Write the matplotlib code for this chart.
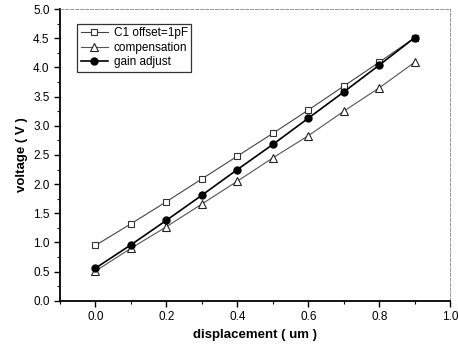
import matplotlib
matplotlib.use('Agg')
import matplotlib.pyplot as plt
from matplotlib.ticker import MultipleLocator

plt.rcParams['font.family'] = ['Liberation Sans', 'DejaVu Sans']

displacement = [0.0, 0.1, 0.2, 0.3, 0.4, 0.5, 0.6, 0.7, 0.8, 0.9]
c1_offset = [0.95, 1.32, 1.70, 2.09, 2.48, 2.87, 3.27, 3.68, 4.09, 4.51]
compensation = [0.51, 0.90, 1.27, 1.66, 2.05, 2.45, 2.83, 3.25, 3.65, 4.09]
gain_adjust = [0.56, 0.96, 1.38, 1.81, 2.25, 2.68, 3.13, 3.58, 4.04, 4.51]

fig = plt.figure(figsize=(4.58, 3.49), dpi=100)
ax = fig.add_axes([0.131, 0.138, 0.852, 0.836])

ax.plot(displacement, c1_offset, color='#444444', lw=0.8, marker='s', ms=4.5,
        mfc='white', mec='#333333', mew=0.8, label='C1 offset=1pF')
ax.plot(displacement, compensation, color='#555555', lw=0.8, marker='^', ms=5.5,
        mfc='white', mec='#222222', mew=0.8, label='compensation')
ax.plot(displacement, gain_adjust, color='black', lw=1.2, marker='o', ms=5,
        mfc='black', mec='black', label='gain adjust')

ax.set_xlim(-0.1, 1.0)
ax.set_ylim(0.0, 5.0)
ax.xaxis.set_major_locator(MultipleLocator(0.2))
ax.xaxis.set_minor_locator(MultipleLocator(0.1))
ax.yaxis.set_major_locator(MultipleLocator(0.5))
ax.yaxis.set_minor_locator(MultipleLocator(0.25))
ax.tick_params(which='major', direction='out', length=4, width=1, labelsize=8.5)
ax.tick_params(which='minor', direction='out', length=2, width=0.8)

for s in ['left', 'bottom']:
    ax.spines[s].set_linewidth(1.3)
for s in ['top', 'right']:
    ax.spines[s].set_linewidth(0.6)
    ax.spines[s].set_color('#888888')
    ax.spines[s].set_linestyle((0, (4, 2)))

ax.set_xlabel('displacement ( um )', fontsize=9.5, fontweight='bold')
ax.set_ylabel('voltage ( V )', fontsize=9.5, fontweight='bold')

leg = ax.legend(loc='upper left', bbox_to_anchor=(0.044, 0.949), borderaxespad=0,
                fontsize=8.5, frameon=True, fancybox=False, edgecolor='black',
                handlelength=2.3, borderpad=0.3, labelspacing=0.2, handletextpad=0.5)
leg.get_frame().set_linewidth(0.9)

fig.savefig('out.png', dpi=100)
